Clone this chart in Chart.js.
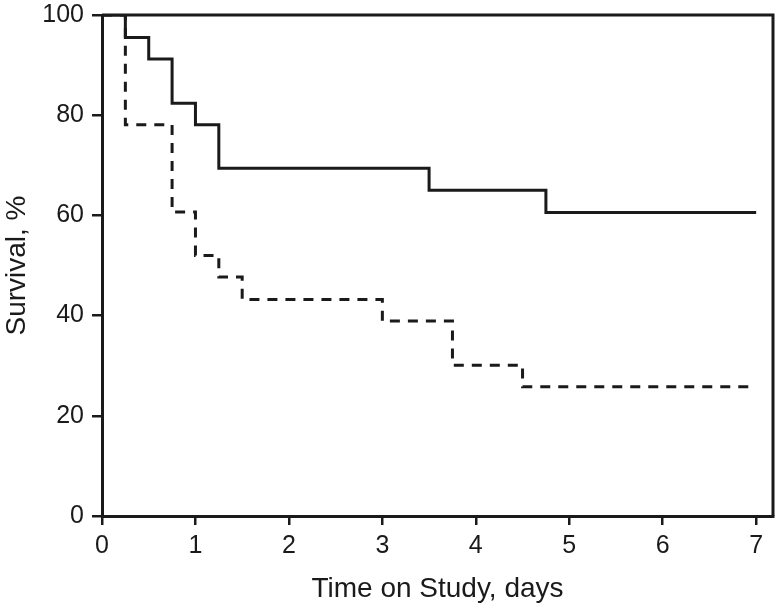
<!DOCTYPE html>
<html>
<head>
<meta charset="utf-8">
<script src="https://cdn.jsdelivr.net/npm/chart.js@4"></script>
<style>
  html, body { margin: 0; padding: 0; background: #fff; }
  #wrap { width: 783px; height: 612px; }
</style>
</head>
<body>
<div id="wrap"><canvas id="kmChart"></canvas></div>
<script>
'use strict';

/* ── Data ─────────────────────────────────── */
const X_TICKS = [0, 1, 2, 3, 4, 5, 6, 7];
const Y_TICKS = [0, 20, 40, 60, 80, 100];

// solid curve
const solidTimes  = [0, 0.25, 0.5, 0.75, 1.0, 1.25, 3.5, 4.75, 7];
const solidSurv   = [100, 95.5, 91.2, 82.4, 78.1, 69.4, 65.0, 60.6, 60.6];

// dashed curve
const dashedTimes = [0, 0.25, 0.75, 1.0, 1.25, 1.5, 3.0, 3.75, 4.5, 7];
const dashedSurv  = [100, 78.1, 60.7, 52.0, 47.7, 43.2, 38.9, 30.1, 25.8, 25.8];

/* ── Helpers ──────────────────────────────── */
const INK = '#1a1a1a';
const toPts = (xs, ys) => xs.map((x, i) => ({ x, y: ys[i] }));

Chart.defaults.font.family = "'Liberation Sans', Arial, sans-serif";
Chart.defaults.color = INK;

// box: top and right edges of the plot area
const boxPlugin = {
  id: 'box',
  afterDraw(chart) {
    const { ctx, chartArea: a } = chart;
    ctx.save();
    ctx.strokeStyle = INK;
    ctx.lineWidth = 3;
    ctx.beginPath();
    ctx.moveTo(a.left, a.top);
    ctx.lineTo(a.right, a.top);
    ctx.lineTo(a.right, a.bottom);
    ctx.stroke();
    ctx.restore();
  }
};

new Chart(document.getElementById('kmChart').getContext('2d'), {
  type: 'line',
  data: {
    datasets: [
      {
        data: toPts(solidTimes, solidSurv),
        borderColor: INK,
        borderWidth: 3,
        stepped: true,
        pointRadius: 0,
        fill: false,
      },
      {
        data: toPts(dashedTimes, dashedSurv),
        borderColor: INK,
        borderWidth: 3,
        borderDash: [10, 8],
        stepped: true,
        pointRadius: 0,
        fill: false,
      },
    ],
  },
  options: {
    responsive: true,
    maintainAspectRatio: false,
    animation: false,
    layout: { padding: { top: 15, right: 10, left: 0, bottom: 0 } },
    plugins: { legend: { display: false }, tooltip: { enabled: false } },
    scales: {
      x: {
        type: 'linear',
        min: 0,
        max: 7.18,
        afterBuildTicks: s => { s.ticks = X_TICKS.map(v => ({ value: v })); },
        afterFit: s => { s.height = 96; s.paddingLeft = 0; s.paddingRight = 0; },
        grid: { drawOnChartArea: false, drawTicks: true, tickLength: 9, color: INK, lineWidth: 2.5 },
        border: { display: true, color: INK, width: 3 },
        ticks: { font: { size: 25 }, color: INK, padding: 6, maxRotation: 0 },
        title: { display: true, text: 'Time on Study, days', font: { size: 28 }, color: INK, padding: { top: 0, bottom: 6 } },
      },
      y: {
        min: 0,
        max: 100,
        afterBuildTicks: s => { s.ticks = Y_TICKS.map(v => ({ value: v })); },
        afterFit: s => { s.width = 102; s.paddingTop = 0; s.paddingBottom = 0; },
        grid: { drawOnChartArea: false, drawTicks: true, tickLength: 10, color: INK, lineWidth: 2.5 },
        border: { display: true, color: INK, width: 3 },
        ticks: { font: { size: 25 }, color: INK, padding: 8 },
        title: { display: true, text: 'Survival, %', font: { size: 28 }, color: INK, padding: { top: 0, bottom: 0 } },
      },
    },
  },
  plugins: [boxPlugin],
});
</script>
</body>
</html>
